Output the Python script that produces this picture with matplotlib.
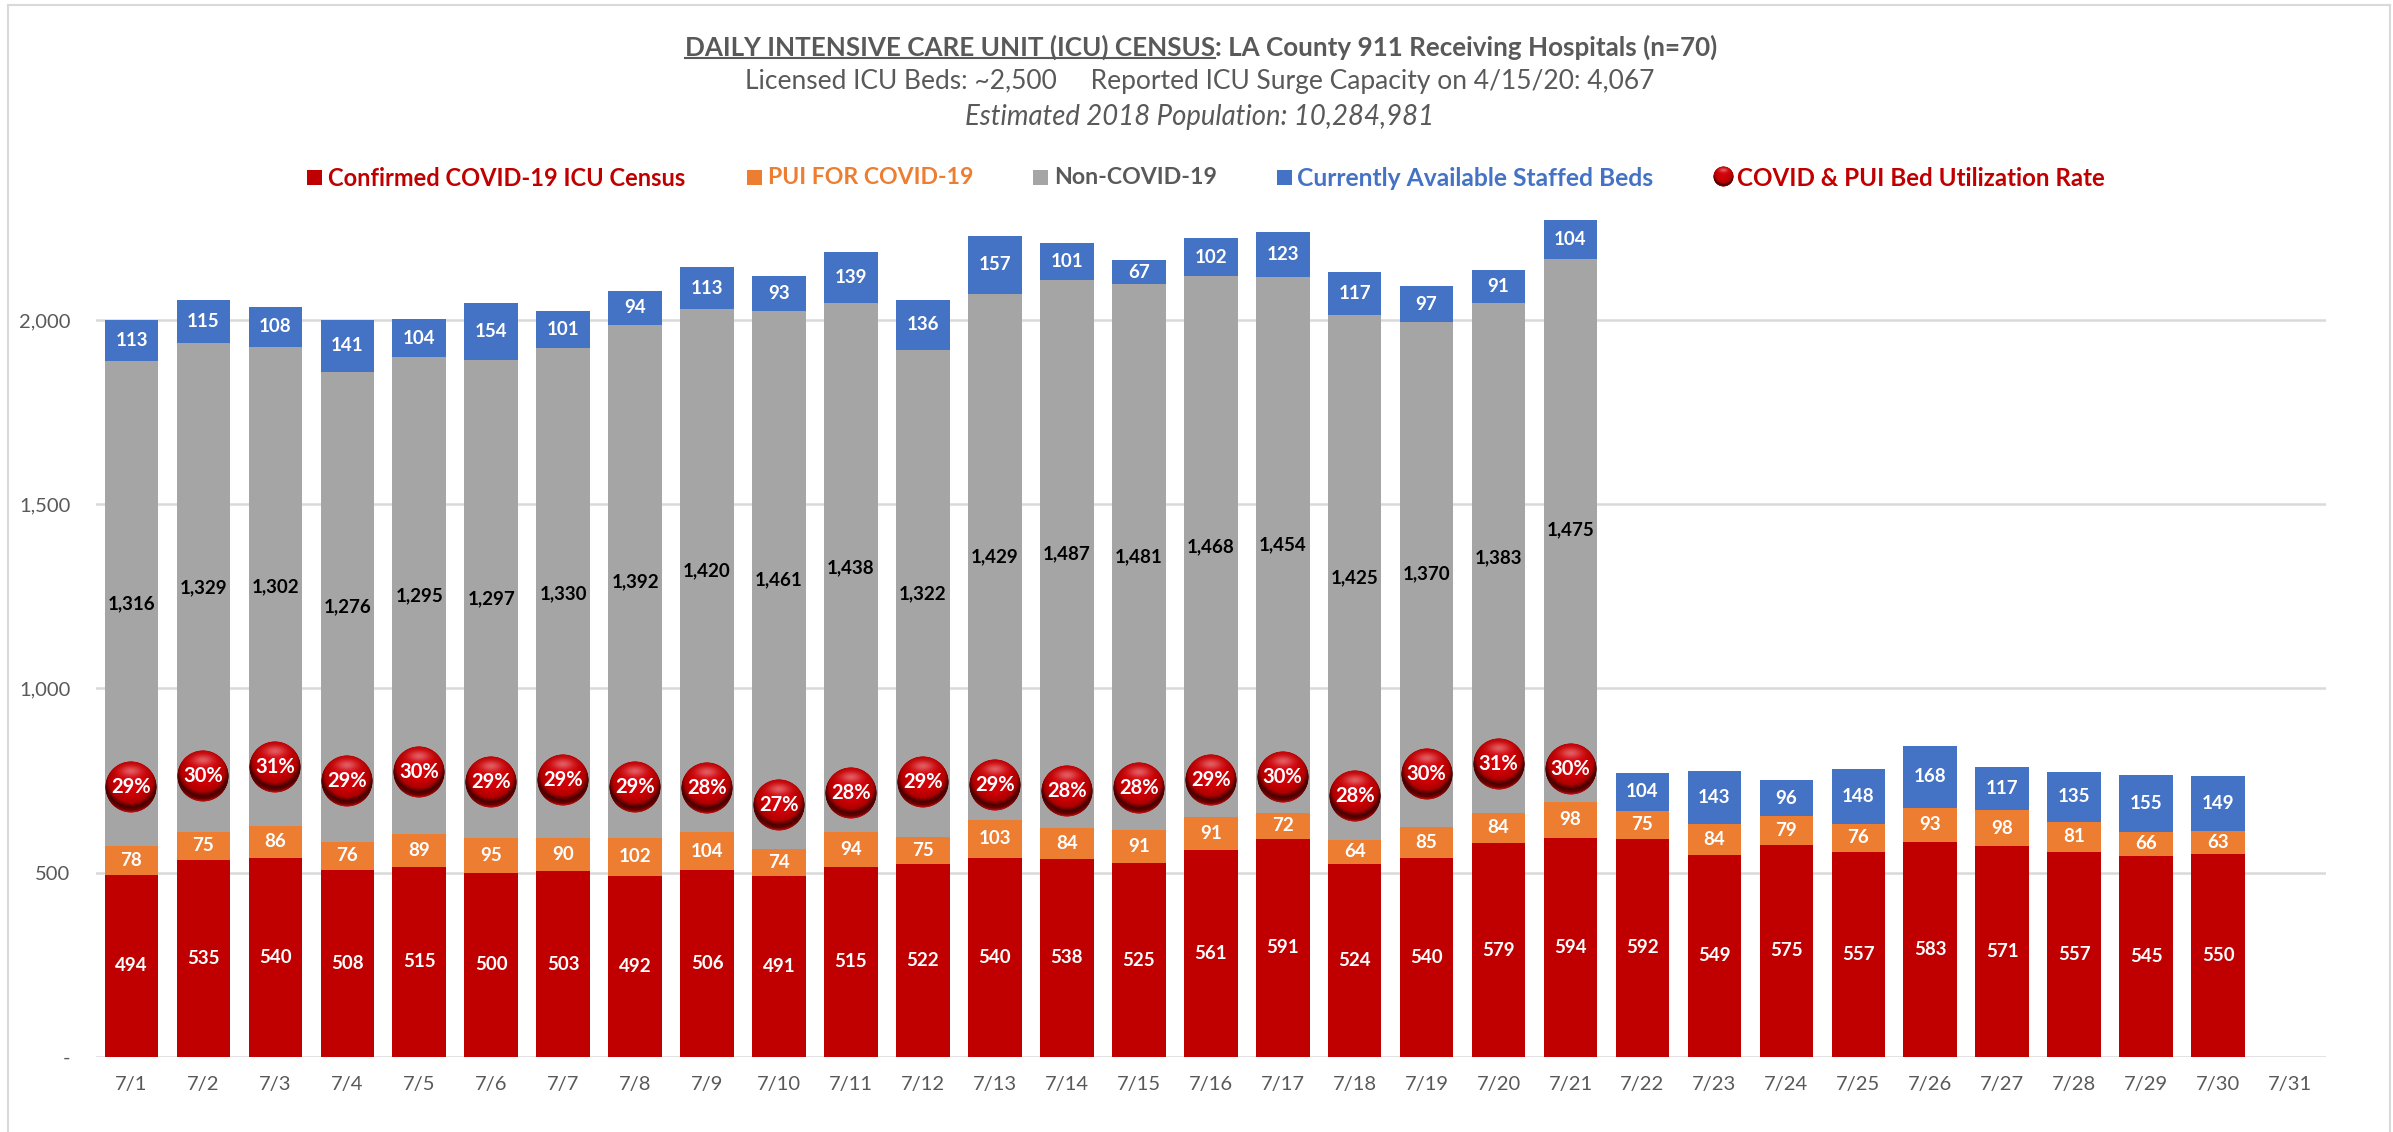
import numpy as np
from matplotlib import pyplot as plt
from matplotlib.lines import Line2D
from matplotlib.patches import Rectangle
from matplotlib.offsetbox import OffsetImage, AnnotationBbox

W, H = 2393, 1132

days = ["7/" + str(d) for d in range(1, 32)]
confirmed = [494, 535, 540, 508, 515, 500, 503, 492, 506, 491, 515, 522, 540, 538, 525, 561,
             591, 524, 540, 579, 594, 592, 549, 575, 557, 583, 571, 557, 545, 550]
pui = [78, 75, 86, 76, 89, 95, 90, 102, 104, 74, 94, 75, 103, 84, 91, 91,
       72, 64, 85, 84, 98, 75, 84, 79, 76, 93, 98, 81, 66, 63]
non_covid = [1316, 1329, 1302, 1276, 1295, 1297, 1330, 1392, 1420, 1461, 1438, 1322, 1429, 1487,
             1481, 1468, 1454, 1425, 1370, 1383, 1475, 0, 0, 0, 0, 0, 0, 0, 0, 0]
available = [113, 115, 108, 141, 104, 154, 101, 94, 113, 93, 139, 136, 157, 101, 67, 102,
             123, 117, 97, 91, 104, 104, 143, 96, 148, 168, 117, 135, 155, 149]
# marker height on the secondary axis, label is the rounded figure printed on the ball
util_rate = [28.6, 29.7, 30.7, 29.2, 30.2, 29.1, 29.3, 28.6, 28.5, 26.7, 27.9, 29.1, 28.8, 28.1,
             28.5, 29.3, 29.6, 27.6, 29.9, 31.0, 30.5]
util_labels = [29, 30, 31, 29, 30, 29, 29, 29, 28, 27, 28, 29, 29, 28, 28, 29, 30, 28, 30, 31, 30]

RED = "#C00000"
ORANGE = "#ED7D31"
GREY = "#A5A5A5"
BLUE = "#4472C4"
TEXT = "#595959"

plt.rcParams["font.family"] = ["Lato", "DejaVu Sans"]


def sphere(size):
    """Shaded red ball as an RGBA array."""
    n = size * 4
    v, u = np.mgrid[-1:1:n * 1j, -1:1:n * 1j]
    r = np.sqrt(u ** 2 + v ** 2)
    # distance from a light above the ball gives the dark crescent low down
    d = np.sqrt(u ** 2 + (v + 0.25) ** 2)
    stops = [0, 0.55, 0.85, 1.02, 1.14, 1.25]
    red = np.interp(d, stops, [215, 205, 175, 70, 110, 215])
    green = np.interp(d, stops, [5, 0, 0, 0, 0, 25])
    blue = np.interp(d, stops, [15, 5, 0, 0, 0, 25])
    glow = np.exp(-((u / 0.4) ** 2 + ((v + 0.62) / 0.2) ** 2)) * 0.35
    img = np.dstack((red, green, blue)) / 255
    img = img + (1 - img) * glow[:, :, None]
    alpha = np.clip((1 - r) * size, 0, 1)
    return np.dstack((np.clip(img, 0, 1), alpha))


def px_text(x, y, s, **kw):
    return fig.text(x / W, 1 - y / H, s, va="center", **kw)


fig = plt.figure(figsize=(W / 100, H / 100), dpi=100)
ax = fig.add_axes([95.5 / W, 1 - 1056.7 / H, (2326 - 95.5) / W, 839.7 / H])

x = np.arange(len(confirmed))
bar_w = 0.745
c = np.array(confirmed)
p = np.array(pui)
n = np.array(non_covid)
a = np.array(available)
ax.bar(x, c, bar_w, color=RED, zorder=2)
ax.bar(x, p, bar_w, bottom=c, color=ORANGE, zorder=2)
ax.bar(x, n, bar_w, bottom=c + p, color=GREY, zorder=2)
ax.bar(x, a, bar_w, bottom=c + p + n, color=BLUE, zorder=2)

for i in x:
    lab = dict(ha="center", va="center", fontsize=13.5, fontweight="bold", zorder=3)
    ax.text(i, c[i] / 2, str(c[i]), color="white", **lab)
    ax.text(i, c[i] + p[i] / 2, str(p[i]), color="white", **lab)
    if n[i] > 0:
        ax.text(i, c[i] + p[i] + n[i] / 2, f"{n[i]:,}", color="black", **lab)
    ax.text(i, c[i] + p[i] + n[i] + a[i] / 2, str(a[i]), color="white", **lab)

ax.set_xlim(-0.5, 30.5)
ax.set_ylim(0, 2280)
ax.set_xticks(np.arange(len(days)))
ax.set_xticklabels(days)
ax.set_yticks([0, 500, 1000, 1500, 2000])
ax.set_yticklabels(["-", "500", "1,000", "1,500", "2,000"])
ax.tick_params(length=0, labelsize=14.5, labelcolor=TEXT)
ax.tick_params(axis="y", pad=18)
ax.tick_params(axis="x", pad=14)
ax.grid(axis="y", color="#D9D9D9", linewidth=1.8, zorder=1)
ax.set_axisbelow(True)
for s in ax.spines.values():
    s.set_visible(False)

# utilization balls sit on a hidden secondary axis
ax2 = ax.twinx()
ax2.set_ylim(0.18, 88.57)
ax2.axis("off")
ball = sphere(52)
for i, rate in enumerate(util_rate):
    box = OffsetImage(ball, zoom=0.25, dpi_cor=False)
    ax2.add_artist(AnnotationBbox(box, (i, rate), frameon=False, pad=0, zorder=4))
    ax2.text(i, rate, f"{util_labels[i]}%", color="white", ha="center", va="center",
             fontsize=14.5, fontweight="bold", zorder=5)

# title, first part is underlined
t1 = px_text(685, 47, "DAILY INTENSIVE CARE UNIT (ICU) CENSUS", color=TEXT, fontsize=18.7,
             fontweight="bold", ha="left")
fig.canvas.draw()
box1 = t1.get_window_extent()
px_text(box1.x1, 47, ": LA County 911 Receiving Hospitals (n=70)", color=TEXT, fontsize=18.7,
        fontweight="bold", ha="left")
fig.add_artist(Line2D([box1.x0 / W, box1.x1 / W], [1 - 58 / H, 1 - 58 / H], color=TEXT, linewidth=1.5))
px_text(1200, 82, "Licensed ICU Beds: ~2,500     Reported ICU Surge Capacity on 4/15/20: 4,067",
        color=TEXT, fontsize=19, ha="center")
px_text(1200, 117, "Estimated 2018 Population: 10,284,981", color=TEXT, fontsize=19.8,
        style="italic", ha="center")

# legend, laid out by hand
legend_items = [("Confirmed COVID-19 ICU Census", RED, RED, 307, 328, 17),
                ("PUI FOR COVID-19", ORANGE, ORANGE, 747, 768, 16.6),
                ("Non-COVID-19", GREY, TEXT, 1033, 1054, 16.7),
                ("Currently Available Staffed Beds", BLUE, BLUE, 1277, 1297, 17.7)]
for name, col, tcol, bx, tx, fs in legend_items:
    fig.add_artist(Rectangle((bx / W, 1 - 185 / H), 15 / W, 15 / H, color=col, linewidth=0,
                             transform=fig.transFigure))
    px_text(tx, 178, name, color=tcol, fontsize=fs, fontweight="bold", ha="left")
fig.add_artist(AnnotationBbox(OffsetImage(sphere(21), zoom=0.25, dpi_cor=False), (1723 / W, 1 - 177 / H),
                              xycoords="figure fraction", frameon=False, pad=0))
px_text(1737, 178, "COVID & PUI Bed Utilization Rate", color=RED, fontsize=17.4, fontweight="bold", ha="left")

# chart frame
for xs, ys in [([8, 8], [5, H]), ([8, 2390], [5, 5]), ([2390, 2390], [5, H])]:
    fig.add_artist(Line2D([v / W for v in xs], [1 - v / H for v in ys], color="#D9D9D9", linewidth=1.5))

fig.savefig("out.png", dpi=100)
